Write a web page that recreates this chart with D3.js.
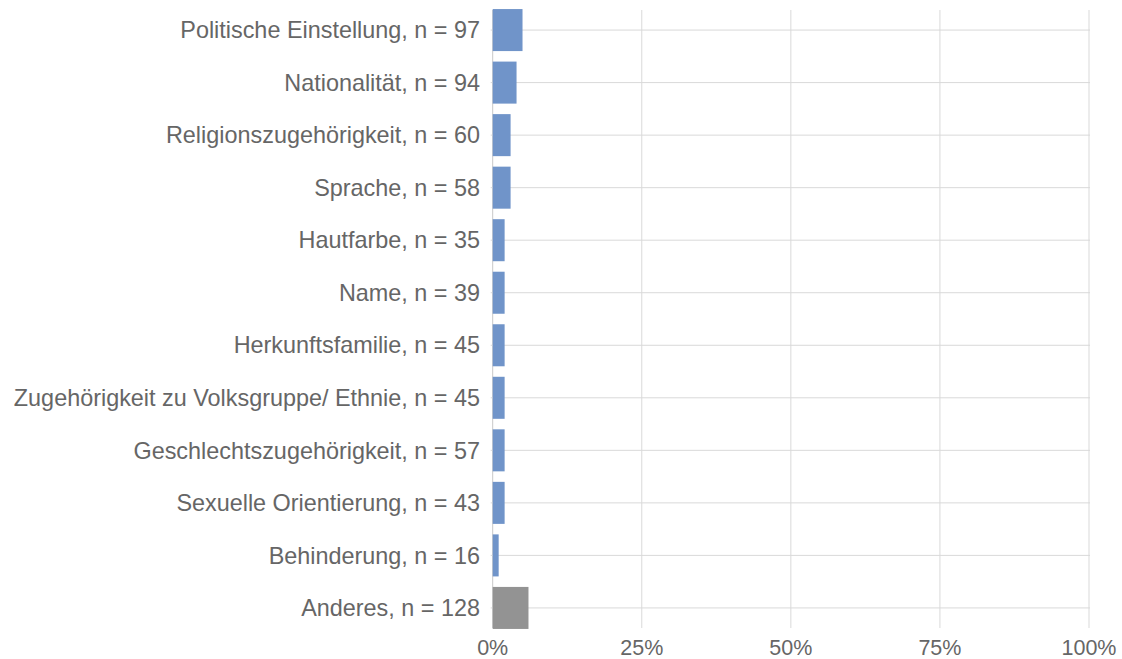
<!DOCTYPE html>
<html><head><meta charset="utf-8">
<script src="https://cdn.jsdelivr.net/npm/d3@7"></script>
<style>body{margin:0;background:#fff}svg{display:block}text{font-family:"Liberation Sans",Arial,sans-serif}</style>
</head><body><svg id="c" width="1122" height="659"></svg>
<script>
const categories = ["Politische Einstellung, n = 97","Nationalität, n = 94","Religionszugehörigkeit, n = 60","Sprache, n = 58","Hautfarbe, n = 35","Name, n = 39","Herkunftsfamilie, n = 45","Zugehörigkeit zu Volksgruppe/ Ethnie, n = 45","Geschlechtszugehörigkeit, n = 57","Sexuelle Orientierung, n = 43","Behinderung, n = 16","Anderes, n = 128"];
const values = [5,4,3,3,2,2,2,2,2,2,1,6];
const barColors = ["#7094c9","#7094c9","#7094c9","#7094c9","#7094c9","#7094c9","#7094c9","#7094c9","#7094c9","#7094c9","#7094c9","#939393"];
const xTicks = [0,25,50,75,100];
const xTickLabels = ["0%","25%","50%","75%","100%"];

const svg = d3.select("#c");
const x = d3.scaleLinear().domain([0,100]).range([492.7,1089]);
const y = d3.scaleBand().domain(categories).range([3.8,634.2]).paddingInner(0.2).paddingOuter(0.1);
const gridTop = 10, gridBottom = 628;

svg.append("g").selectAll("line").data(xTicks).join("line")
  .attr("x1",d=>x(d)).attr("x2",d=>x(d)).attr("y1",gridTop).attr("y2",gridBottom)
  .attr("stroke",d=>d===0?"#c8c8c8":"#d9d9d9").attr("stroke-width",1);

svg.append("g").selectAll("line").data(categories).join("line")
  .attr("x1",x(0)-2).attr("x2",x(100)+1)
  .attr("y1",d=>y(d)+y.bandwidth()/2).attr("y2",d=>y(d)+y.bandwidth()/2)
  .attr("stroke","#d9d9d9").attr("stroke-width",1);

svg.append("g").selectAll("rect").data(categories).join("rect")
  .attr("x",x(0)).attr("y",d=>y(d))
  .attr("width",(d,i)=>x(values[i])-x(0)).attr("height",y.bandwidth())
  .attr("fill",(d,i)=>barColors[i]);

svg.append("g").selectAll("text").data(categories).join("text")
  .attr("x",480).attr("y",d=>y(d)+y.bandwidth()/2).attr("dy","0.35em")
  .attr("text-anchor","end").attr("fill","#666").attr("font-size",23.4).text(d=>d);

svg.append("g").selectAll("text").data(xTicks).join("text")
  .attr("x",d=>x(d)).attr("y",654.5)
  .attr("text-anchor","middle").attr("fill","#666").attr("font-size",21.5).text((d,i)=>xTickLabels[i]);
</script></body></html>
